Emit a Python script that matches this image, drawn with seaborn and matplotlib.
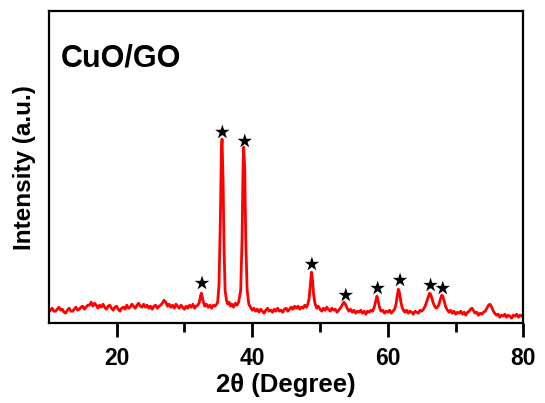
import matplotlib
matplotlib.use("Agg")
import matplotlib.pyplot as plt
import seaborn as sns
import pandas as pd

# ---- data ----
two_theta = [
    10.0, 10.25, 10.5, 10.75, 11.0, 11.25, 11.5, 11.75, 12.0, 12.25, 12.5, 12.75,
    13.0, 13.25, 13.5, 13.75, 14.0, 14.25, 14.5, 14.75, 15.0, 15.25, 15.5, 15.75,
    16.0, 16.25, 16.5, 16.75, 17.0, 17.25, 17.5, 17.75, 18.0, 18.25, 18.5, 18.75,
    19.0, 19.25, 19.5, 19.75, 20.0, 20.25, 20.5, 20.75, 21.0, 21.25, 21.5, 21.75,
    22.0, 22.25, 22.5, 22.75, 23.0, 23.25, 23.5, 23.75, 24.0, 24.25, 24.5, 24.75,
    25.0, 25.25, 25.5, 25.75, 26.0, 26.25, 26.5, 26.75, 27.0, 27.25, 27.5, 27.75,
    28.0, 28.25, 28.5, 28.75, 29.0, 29.25, 29.5, 29.75, 30.0, 30.25, 30.5, 30.75,
    31.0, 31.25, 31.5, 31.75, 32.0, 32.2, 32.4, 32.5, 32.6, 32.8, 33.0, 33.25,
    33.5, 33.75, 34.0, 34.25, 34.5, 34.75, 34.9, 35.1, 35.3, 35.45, 35.55, 35.7,
    35.85, 36.0, 36.2, 36.4, 36.6, 36.8, 37.0, 37.25, 37.5, 37.75, 38.0, 38.3,
    38.5, 38.65, 38.75, 38.9, 39.05, 39.25, 39.5, 39.75, 40.0, 40.25, 40.5, 40.75,
    41.0, 41.25, 41.5, 41.75, 42.0, 42.25, 42.5, 42.75, 43.0, 43.25, 43.5, 43.75,
    44.0, 44.25, 44.5, 44.75, 45.0, 45.25, 45.5, 45.75, 46.0, 46.25, 46.5, 46.75,
    47.0, 47.25, 47.5, 47.75, 48.0, 48.2, 48.4, 48.6, 48.75, 48.9, 49.05, 49.25,
    49.5, 49.75, 50.0, 50.25, 50.5, 50.75, 51.0, 51.25, 51.5, 51.75, 52.0, 52.25,
    52.5, 52.75, 53.0, 53.25, 53.5, 53.75, 54.0, 54.25, 54.5, 54.75, 55.0, 55.25,
    55.5, 55.75, 56.0, 56.25, 56.5, 56.75, 57.0, 57.25, 57.5, 57.75, 58.0, 58.2,
    58.4, 58.6, 58.8, 59.0, 59.25, 59.5, 59.75, 60.0, 60.25, 60.5, 60.75, 61.0,
    61.2, 61.4, 61.55, 61.7, 61.9, 62.1, 62.3, 62.5, 62.75, 63.0, 63.25, 63.5,
    63.75, 64.0, 64.25, 64.5, 64.75, 65.0, 65.25, 65.5, 65.75, 66.0, 66.15, 66.3,
    66.5, 66.7, 66.9, 67.1, 67.3, 67.5, 67.75, 67.95, 68.1, 68.3, 68.55, 68.8,
    69.0, 69.25, 69.5, 69.75, 70.0, 70.25, 70.5, 70.75, 71.0, 71.25, 71.5, 71.75,
    72.0, 72.2, 72.4, 72.6, 72.85, 73.1, 73.35, 73.6, 73.85, 74.1, 74.35, 74.6,
    74.85, 75.05, 75.25, 75.5, 75.75, 76.0, 76.25, 76.5, 76.75, 77.0, 77.25, 77.5,
    77.75, 78.0, 78.25, 78.5, 78.75, 79.0, 79.25, 79.5, 79.75, 80.0,
]
intensity = [
    -2, 0, 2, -1, -1, 1, 3, 0, 1, -2, -3, 0,
    2, -1, -1, 1, 3, 0, 1, 3, 4, 1, 3, 5,
    5, 8, 4, 7, 5, 2, 5, 3, 6, 3, 1, 4,
    5, 2, 0, 3, 4, 1, -1, 2, 3, 1, 5, 2,
    3, 6, 4, 2, 5, 7, 4, 3, 6, 3, 5, 2,
    4, 1, 4, 5, 2, 4, 5, 7, 10, 8, 4, 6,
    3, 5, 2, 6, 4, 2, 5, 3, 1, 4, 2, 5,
    3, 6, 2, 4, 5, 8, 15, 17, 14, 8, 4, 6,
    3, 5, 2, 5, 4, 6, 8, 25, 90, 160, 171, 130,
    60, 20, 10, 6, 8, 4, 6, 3, 7, 5, 8, 20,
    70, 145, 163, 140, 70, 20, 6, 3, 0, 2, -1, 1,
    -2, 1, -1, -3, 0, 2, -1, 0, -2, 1, -1, 2,
    -1, 0, -2, 1, 2, -1, 1, 3, 1, 4, 2, 4,
    1, 3, 2, 5, 3, 6, 12, 28, 38, 30, 16, 7,
    2, 4, 1, -1, 2, 0, 3, 1, -1, 2, 0, 1,
    -2, 0, 2, 5, 8, 6, 2, -1, 1, -2, 0, -3,
    -1, -2, 0, -3, -1, -4, -1, -2, 0, -1, 3, 9,
    14, 8, 2, -1, 0, -3, -1, -2, 0, -3, -1, 1,
    6, 15, 21, 18, 9, 3, 0, -2, 0, -3, -1, -2,
    -4, -1, -2, -3, 0, -1, 1, 4, 9, 14, 17, 16,
    12, 7, 4, 2, 3, 5, 11, 15, 14, 9, 3, 0,
    -2, 0, -3, -1, -4, -2, -3, -1, -4, -2, -5, -2,
    -1, 1, 2, 0, -3, -2, -5, -3, -4, -2, -1, 2,
    5, 6, 4, 0, -3, -5, -4, -7, -5, -6, -4, -7,
    -5, -6, -8, -5, -6, -4, -7, -5, -6, -4,
]
star_x = [32.6, 35.6, 38.9, 48.8, 53.8, 58.5, 61.8, 66.3, 68.1]
star_y = [27, 178, 169, 46, 15, 22, 30, 25, 22]
x_ticks = [20, 40, 60, 80]
x_minor = [30, 50, 70]

sns.set_style("ticks")
plt.rcParams["font.family"] = ["Liberation Sans", "DejaVu Sans"]
plt.rcParams["font.weight"] = "bold"
plt.rcParams["text.color"] = "black"
plt.rcParams["axes.labelcolor"] = "black"
plt.rcParams["xtick.color"] = "black"

fig = plt.figure(figsize=(5.45, 4.03), dpi=100)
ax = fig.add_axes([0.0895, 0.198, 0.871, 0.7745])

df = pd.DataFrame({"two_theta": two_theta, "intensity": intensity})
sns.lineplot(data=df, x="two_theta", y="intensity", color="#ff0000",
             linewidth=2.0, ax=ax, estimator=None)
stars = pd.DataFrame({"x": star_x, "y": star_y})
sns.scatterplot(data=stars, x="x", y="y", marker="*", s=120, color="black",
                edgecolor="none", ax=ax, zorder=5)

ax.set_xlim(10, 80)
ax.set_ylim(-13, 299)
ax.set_xticks(x_ticks)
ax.set_xticks(x_minor, minor=True)
ax.set_yticks([])
ax.tick_params(axis="x", which="major", length=10, width=2, direction="out",
               labelsize=16.5, pad=7, color="black", labelcolor="black")
ax.tick_params(axis="x", which="minor", length=6.5, width=2, direction="out",
               color="black")
for lab in ax.get_xticklabels():
    lab.set_fontweight("bold")
for sp in ax.spines.values():
    sp.set_linewidth(1.6)
    sp.set_color("black")
    sp.set_visible(True)

ax.set_xlabel("2θ (Degree)", fontsize=18.5, fontweight="bold", labelpad=2,
              color="black")
ax.set_ylabel("Intensity (a.u.)", fontsize=17.5, fontweight="bold", labelpad=9,
              color="black")
ax.text(0.026, 0.822, "CuO/GO", transform=ax.transAxes, fontsize=22,
        fontweight="bold", ha="left", va="baseline", color="black")

fig.savefig("out.png", dpi=100)
